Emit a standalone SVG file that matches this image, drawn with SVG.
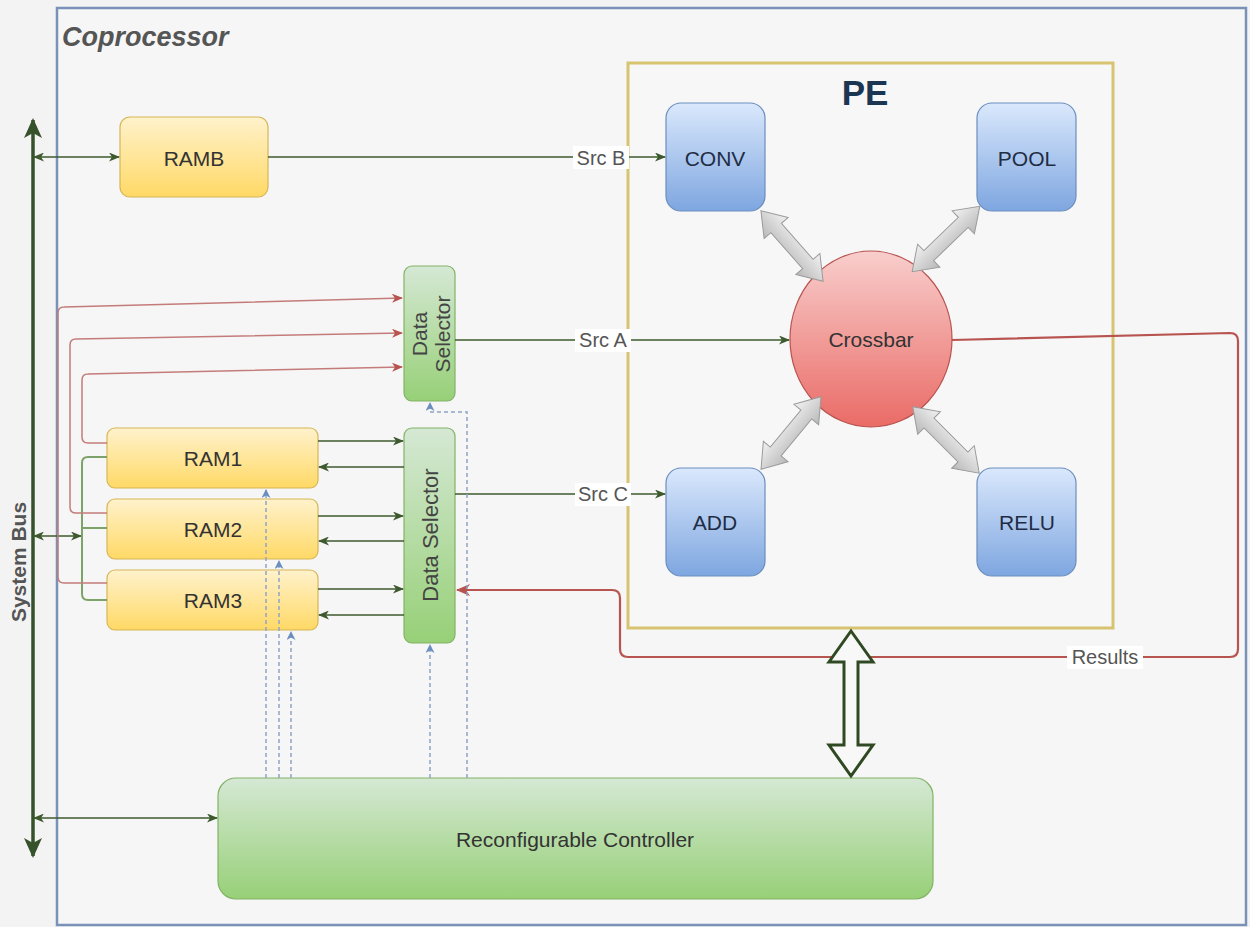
<svg xmlns="http://www.w3.org/2000/svg" width="1250" height="927" viewBox="0 0 1250 927">
<defs>
<linearGradient id="gY" x1="0" y1="0" x2="0" y2="1"><stop offset="0" stop-color="#fff2cc"/><stop offset="1" stop-color="#ffd966"/></linearGradient>
<linearGradient id="gG" x1="0" y1="0" x2="0" y2="1"><stop offset="0" stop-color="#d5e8d4"/><stop offset="1" stop-color="#97d077"/></linearGradient>
<linearGradient id="gB" x1="0" y1="0" x2="0" y2="1"><stop offset="0" stop-color="#dae8fc"/><stop offset="1" stop-color="#7ea6e0"/></linearGradient>
<linearGradient id="gR" x1="0" y1="0" x2="0" y2="1"><stop offset="0" stop-color="#f8cecc"/><stop offset="1" stop-color="#ea6b66"/></linearGradient>
<linearGradient id="gGrey" x1="0" y1="0" x2="0" y2="1"><stop offset="0" stop-color="#f2f2f2"/><stop offset="1" stop-color="#b8b8b8"/></linearGradient>
<marker id="aG" markerUnits="userSpaceOnUse" markerWidth="11" markerHeight="9" refX="10" refY="4.5" orient="auto-start-reverse"><path d="M0,0 L11,4.5 L0,9 L3,4.5 Z" fill="#3d5a2e"/></marker>
<marker id="aBus" markerUnits="userSpaceOnUse" markerWidth="20" markerHeight="18" refX="18" refY="9" orient="auto-start-reverse"><path d="M0,0 L20,9 L0,18 L5,9 Z" fill="#36522a"/></marker>
<marker id="aR" markerUnits="userSpaceOnUse" markerWidth="11" markerHeight="9" refX="10" refY="4.5" orient="auto-start-reverse"><path d="M0,0 L11,4.5 L0,9 L3,4.5 Z" fill="#b85450"/></marker>
<marker id="aR2" markerUnits="userSpaceOnUse" markerWidth="14" markerHeight="12" refX="13" refY="6" orient="auto-start-reverse"><path d="M0,0 L14,6 L0,12 L4,6 Z" fill="#b85450"/></marker>
<marker id="aBl" markerUnits="userSpaceOnUse" markerWidth="9" markerHeight="9" refX="8" refY="4.5" orient="auto-start-reverse"><path d="M0,0 L9,4.5 L0,9 L2.5,4.5 Z" fill="#6c8ebf"/></marker>
<style>
text{font-family:"Liberation Sans",Arial,sans-serif;fill:#333;}
.lbl{font-size:21px;text-anchor:middle;dominant-baseline:central;}
.ram{fill:url(#gY);stroke:#d6b656;stroke-width:1.2;}
.grn{fill:url(#gG);stroke:#82b366;stroke-width:1.2;}
.blu{fill:url(#gB);stroke:#6c8ebf;stroke-width:1.2;}
.ln{fill:none;stroke:#3d5a2e;stroke-width:1.5;}
.red{fill:none;stroke:#c47c7a;stroke-width:1.5;}
.dot{fill:none;stroke:#8ea4c8;stroke-width:1.5;stroke-dasharray:4 3;}
.grey{fill:url(#gGrey);stroke:#9a9a9a;stroke-width:1;}
.src{font-size:20px;fill:#555;text-anchor:middle;dominant-baseline:central;}
</style>
</defs>
<rect x="0" y="0" width="1250" height="927" fill="#f3f3f3"/>
<g id="coprocessor">
<rect x="57" y="8" width="1189" height="917" fill="#f6f6f6" stroke="#7b92b8" stroke-width="2.5"/>
<text x="62" y="46" style="font-size:27px;font-weight:bold;font-style:italic;fill:#555">Coprocessor</text>
</g>
<g id="pe">
<rect x="628" y="63" width="485" height="565" fill="#f7f7f7" stroke="#d8c470" stroke-width="3"/>
<text x="865" y="92" class="lbl" style="font-size:35px;font-weight:bold;fill:#1b3552">PE</text>
</g>
<g id="system-bus">
<text transform="translate(18,562) rotate(-90)" class="lbl" style="font-weight:bold;fill:#555;font-size:21px">System Bus</text>
</g>
<g id="ramb"><rect x="120" y="117" width="148" height="80" rx="10" class="ram"/><text x="194" y="158" class="lbl">RAMB</text></g>
<g id="ram1"><rect x="107" y="428" width="211" height="60" rx="8" class="ram"/><text x="213" y="458" class="lbl">RAM1</text></g>
<g id="ram2"><rect x="107" y="499" width="211" height="60" rx="8" class="ram"/><text x="213" y="529" class="lbl">RAM2</text></g>
<g id="ram3"><rect x="107" y="570" width="211" height="60" rx="8" class="ram"/><text x="213" y="600" class="lbl">RAM3</text></g>
<g id="data-selector-1"><rect x="404" y="266" width="51" height="135" rx="8" class="grn"/>
<text transform="translate(430,334) rotate(-90)" class="lbl" style="font-size:21px;fill:#444"><tspan x="0" y="-11">Data</tspan><tspan x="0" y="12">Selector</tspan></text></g>
<g id="data-selector-2"><rect x="404" y="428" width="51" height="215" rx="8" class="grn"/>
<text transform="translate(430,535) rotate(-90)" class="lbl" style="font-size:22px;fill:#444">Data Selector</text></g>
<g id="conv"><rect x="666" y="103" width="99" height="108" rx="15" class="blu"/><text x="715" y="158" class="lbl" style="fill:#1f2d44">CONV</text></g>
<g id="pool"><rect x="977" y="103" width="99" height="108" rx="15" class="blu"/><text x="1027" y="158" class="lbl" style="fill:#1f2d44">POOL</text></g>
<g id="add"><rect x="666" y="468" width="99" height="108" rx="15" class="blu"/><text x="715" y="522" class="lbl" style="fill:#1f2d44">ADD</text></g>
<g id="relu"><rect x="977" y="468" width="99" height="108" rx="15" class="blu"/><text x="1027" y="522" class="lbl" style="fill:#1f2d44">RELU</text></g>
<g id="crossbar"><ellipse cx="871" cy="339" rx="81" ry="88" fill="url(#gR)" stroke="#b85450" stroke-width="1.2"/><text x="871" y="339" class="lbl">Crossbar</text></g>
<g id="controller"><rect x="218" y="778" width="715" height="121" rx="18" class="grn"/><text x="575" y="839" class="lbl">Reconfigurable Controller</text></g>
<g id="connectors">
<line x1="33" y1="856" x2="33" y2="120" stroke="#36522a" stroke-width="3.5" marker-start="url(#aBus)" marker-end="url(#aBus)"/>
<path class="ln" d="M34,157 L119,157" marker-start="url(#aG)" marker-end="url(#aG)"/>
<path class="ln" d="M34,536 L81,536" marker-start="url(#aG)" marker-end="url(#aG)"/>
<path class="ln" d="M34,818 L217,818" marker-start="url(#aG)" marker-end="url(#aG)"/>
<path d="M107,457 L88,457 Q82,457 82,463 L82,594 Q82,600 88,600 L107,600 M82,528 L107,528" fill="none" stroke="#7ea36a" stroke-width="2"/>
<path class="red" d="M107,583 L64,583 Q58,583 58,577 L58,313 Q58,307 64,307 L402,298" marker-end="url(#aR)"/>
<path class="red" d="M107,513 L76,513 Q70,513 70,507 L70,345 Q70,339 76,339 L402,333" marker-end="url(#aR)"/>
<path class="red" d="M107,443 L88,443 Q82,443 82,437 L82,380 Q82,374 88,374 L402,367" marker-end="url(#aR)"/>
<path class="ln" d="M318,441 L403,441" marker-end="url(#aG)"/>
<path class="ln" d="M404,467 L319,467" marker-end="url(#aG)"/>
<path class="ln" d="M318,516 L403,516" marker-end="url(#aG)"/>
<path class="ln" d="M404,541 L319,541" marker-end="url(#aG)"/>
<path class="ln" d="M318,589 L403,589" marker-end="url(#aG)"/>
<path class="ln" d="M404,615 L319,615" marker-end="url(#aG)"/>
<path class="ln" d="M268,157 L665,157" marker-end="url(#aG)"/>
<path class="ln" d="M455,340 L789,340" marker-end="url(#aG)"/>
<path class="ln" d="M455,494 L665,494" marker-end="url(#aG)"/>
<path d="M952,340 L1230,333 Q1238,333 1238,341 L1238,649 Q1238,657 1230,657 L628,657 Q620,657 620,649 L620,598 Q620,590 612,590 L457,590" fill="none" stroke="#b85450" stroke-width="2.2" marker-end="url(#aR2)"/>
<path class="dot" d="M266,778 L266,490" marker-end="url(#aBl)"/>
<path class="dot" d="M279,778 L279,561" marker-end="url(#aBl)"/>
<path class="dot" d="M291,778 L291,632" marker-end="url(#aBl)"/>
<path class="dot" d="M430,778 L430,645" marker-end="url(#aBl)"/>
<path class="dot" d="M467,778 L467,412 L430,412 L430,403" marker-end="url(#aBl)"/>
<rect x="573" y="146" width="56" height="23" fill="#ffffff"/>
<text x="601" y="158" class="src">Src B</text>
<rect x="575" y="329" width="56" height="23" fill="#ffffff"/>
<text x="603" y="340" class="src">Src A</text>
<rect x="575" y="483" width="56" height="23" fill="#ffffff"/>
<text x="603" y="494" class="src">Src C</text>
<rect x="1067" y="646" width="76" height="23" fill="#ffffff"/>
<text x="1105" y="657" class="src">Results</text>
<g class="grey">
<polygon transform="translate(792,246) rotate(48.6)" points="-47,0 -24,-16 -24,-7 24,-7 24,-16 47,0 24,16 24,7 -24,7 -24,16"/>
<polygon transform="translate(946,239) rotate(-44)" points="-47,0 -24,-16 -24,-7 24,-7 24,-16 47,0 24,16 24,7 -24,7 -24,16"/>
<polygon transform="translate(791,433) rotate(-50.4)" points="-47,0 -24,-16 -24,-7 24,-7 24,-16 47,0 24,16 24,7 -24,7 -24,16"/>
<polygon transform="translate(946,440) rotate(45)" points="-47,0 -24,-16 -24,-7 24,-7 24,-16 47,0 24,16 24,7 -24,7 -24,16"/>
</g>
<path d="M851,631 L873,662 L858,662 L858,745 L873,745 L851,776 L829,745 L844,745 L844,662 L829,662 Z" fill="#f8f8f8" stroke="#2f4a22" stroke-width="3" stroke-linejoin="miter"/>
</g>
</svg>
